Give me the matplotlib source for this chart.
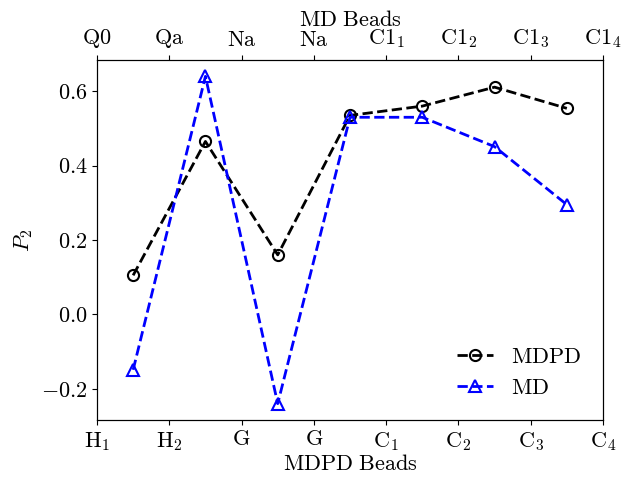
import matplotlib
matplotlib.use("Agg")
import matplotlib.pyplot as plt
import numpy as np

plt.rcParams['mathtext.fontset'] = 'cm'
plt.rcParams['font.family'] = 'serif'
plt.rcParams['font.serif'] = ['cmr10', 'DejaVu Serif']
plt.rcParams['axes.formatter.use_mathtext'] = True
plt.rcParams['font.size'] = 16

bottom_labels = [r'$\mathrm{H}_1$', r'$\mathrm{H}_2$', r'$\mathrm{G}$', r'$\mathrm{G}$',
                 r'$\mathrm{C}_1$', r'$\mathrm{C}_2$', r'$\mathrm{C}_3$', r'$\mathrm{C}_4$']
top_labels = [r'$\mathrm{Q0}$', r'$\mathrm{Qa}$', r'$\mathrm{Na}$', r'$\mathrm{Na}$',
              r'$\mathrm{C1}_1$', r'$\mathrm{C1}_2$', r'$\mathrm{C1}_3$', r'$\mathrm{C1}_4$']
positions = [0.5, 1.5, 2.5, 3.5, 4.5, 5.5, 6.5]
mdpd = [0.105, 0.465, 0.160, 0.535, 0.560, 0.611, 0.554]
md = [-0.149, 0.640, -0.240, 0.530, 0.530, 0.451, 0.295]

fig = plt.figure(figsize=(6.32, 4.8), dpi=100)
ax = fig.add_axes([97/632, 60/480, 506/632, 360/480])
ax.plot(positions, mdpd, 'k--', marker='o', mfc='none', ms=8, mew=1.5, lw=2, label=r'$\mathrm{MDPD}$')
ax.plot(positions, md, 'b--', marker='^', mfc='none', ms=8, mew=1.5, lw=2, label=r'$\mathrm{MD}$')
ax.set_xlim(0, 7)
ax.set_xticks(range(8))
ax.set_xticklabels(bottom_labels)
ax.set_xlabel(r'$\mathrm{MDPD\ Beads}$', labelpad=1)
ax.set_ylabel(r'$P_2$')
ax.set_yticks([-0.2, 0.0, 0.2, 0.4, 0.6])
ax.set_yticklabels([r'$-0.2$', r'$0.0$', r'$0.2$', r'$0.4$', r'$0.6$'])
ax2 = ax.twiny()
ax2.set_xlim(0, 7)
ax2.set_xticks(range(8))
ax2.set_xticklabels(top_labels)
ax2.set_xlabel(r'$\mathrm{MD\ Beads}$', labelpad=1)
ax.legend(loc='lower right', frameon=False, fontsize=16, handlelength=1.6, borderaxespad=0.6)
fig.savefig('out.png', dpi=100)
